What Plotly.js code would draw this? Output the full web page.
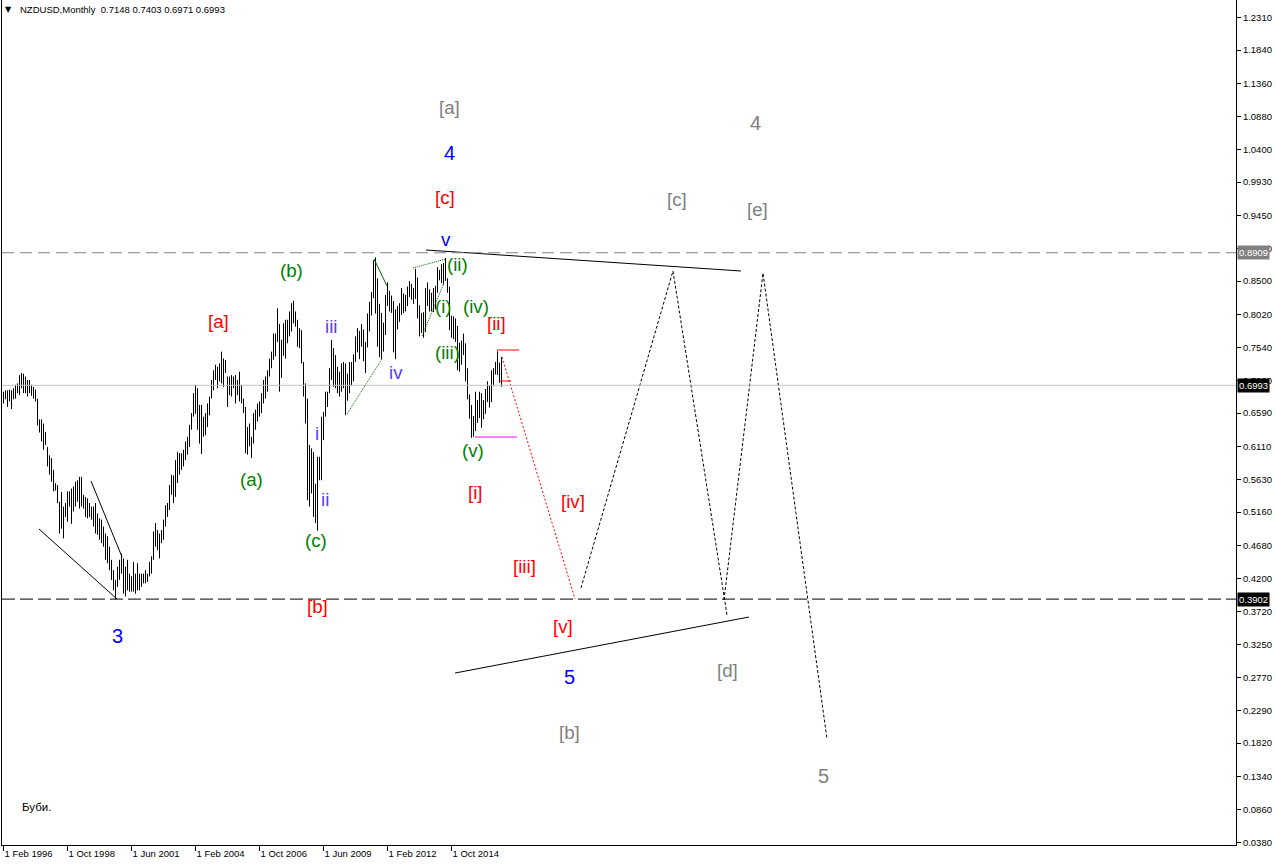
<!DOCTYPE html>
<html><head><meta charset="utf-8">
<script src="https://cdn.plot.ly/plotly-3.0.1.min.js"></script>
<style>html,body{margin:0;padding:0;background:#fff;}#chart{width:1276px;height:866px;}</style>
</head><body><div id="chart"></div>
<script>
// ---------------- data ----------------
const headerText = 'NZDUSD,Monthly\u00a0\u00a00.7148 0.7403 0.6971 0.6993';
const firstYear = 1996, firstMonth = 2;   // first bar = Feb 1996 (month index 0)

// monthly highs, Feb 1996 .. Nov 2016
const barHigh = [
 .6900,.6920,.6920,.6930,.6920,.6950,.7000,.7020,.7140,.7170,.7160,            // 1996
 .7120,.7070,.7070,.7000,.6970,.6930,.6800,.6500,.6500,.6440,.6320,.6100,      // 1997
 .5980,.5940,.5770,.5580,.5550,.5310,.5450,.5240,.5290,.5460,.5460,.5500,      // 1998
 .5530,.5600,.5620,.5670,.5670,.5410,.5380,.5360,.5290,.5240,.5240,.5290,      // 1999
 .5140,.5070,.5050,.4950,.4850,.4810,.4660,.4470,.4320,.4180,.4370,.4470,      // 2000
 .4560,.4490,.4370,.4470,.4270,.4230,.4440,.4270,.4420,.4270,.4270,.4270,      // 2001
 .4320,.4270,.4440,.4520,.4880,.5000,.4900,.4850,.4900,.5050,.5260,.5290,      // 2002
 .5550,.5700,.5690,.5910,.6030,.6010,.6010,.6060,.6180,.6250,.6420,.6590,      // 2003
 .6880,.7000,.6950,.6710,.6710,.6540,.6590,.6730,.6830,.7070,.7210,.7290,      // 2004
 .7260,.7310,.7480,.7380,.7360,.7120,.7120,.7140,.7120,.7140,.7070,.7190,      // 2005
 .7000,.6800,.6680,.6390,.6440,.6250,.6590,.6640,.6730,.6760,.6880,.7070,      // 2006
 .7120,.7210,.7380,.7480,.7740,.7740,.8107,.7880,.7650,.7890,.7940,.7940,      // 2007
 .8060,.8180,.8214,.8060,.7940,.7820,.7790,.7330,.7020,.6800,.6130,.6080,      // 2008
 .6030,.5570,.5960,.5960,.6540,.6610,.6900,.6900,.7240,.7650,.7530,.7430,      // 2009
 .7260,.7190,.7310,.7330,.7310,.7160,.7330,.7330,.7440,.7700,.7820,.7780,      // 2010
 .7880,.7800,.7620,.8030,.8200,.8340,.8800,.8843,.8540,.8170,.8040,.7900,      // 2011
 .8300,.8480,.8360,.8290,.8210,.8090,.8140,.8180,.8400,.8320,.8300,.8420,      // 2012
 .8500,.8460,.8400,.8676,.8550,.8150,.8040,.8050,.8400,.8480,.8380,.8330,      // 2013
 .8400,.8430,.8700,.8660,.8740,.8760,.8835,.8540,.8420,.8000,.7990,.7960,      // 2014
 .7850,.7610,.7640,.7740,.7600,.7240,.6860,.6710,.6550,.6900,.6780,.6900,      // 2015
 .6880,.6780,.6940,.7050,.6990,.7210,.7240,.7330,.7485,.7320,.7403             // 2016
];
// monthly lows, Feb 1996 .. Nov 2016
const barLow = [
 .6730,.6790,.6680,.6760,.6650,.6790,.6800,.6880,.6850,.6950,.6880,            // 1996
 .6880,.6830,.6880,.6840,.6800,.6760,.6410,.6310,.6180,.6060,.6130,.5820,      // 1997
 .5700,.5600,.5460,.5470,.5290,.4850,.4920,.4780,.5090,.5020,.5240,.4990,      // 1998
 .5170,.5240,.5310,.5210,.5240,.5210,.5090,.5070,.5090,.5050,.4950,.4850,      // 1999
 .4830,.4760,.4710,.4660,.4470,.4420,.4320,.4180,.4030,.3900,.4080,.4180,      // 2000
 .4270,.3980,.3940,.4030,.4010,.4010,.4010,.3980,.4030,.4030,.4080,.4130,      // 2001
 .4130,.4150,.4230,.4270,.4470,.4660,.4610,.4490,.4710,.4760,.4950,.5090,      // 2002
 .5190,.5410,.5290,.5380,.5580,.5700,.5770,.5820,.5910,.5990,.6100,.6350,      // 2003
 .6540,.6580,.6350,.6150,.6000,.6250,.6270,.6390,.6560,.6800,.6920,.7070,      // 2004
 .6950,.7050,.7020,.6970,.7170,.6680,.6850,.6830,.6950,.6730,.6850,.6760,      // 2005
 .6730,.6590,.6010,.5990,.6110,.5940,.6150,.6350,.6470,.6540,.6590,.6730,      // 2006
 .6800,.6900,.7120,.7240,.7360,.7410,.7620,.6900,.7100,.7420,.7380,.7600,      // 2007
 .7700,.7770,.7890,.7840,.7550,.7530,.7310,.6830,.6440,.5330,.5240,.5430,      // 2008
 .5090,.5000,.4891,.5620,.5620,.6200,.6540,.6680,.6880,.7070,.6970,.6950,      // 2009
 .6880,.6830,.6900,.6950,.6560,.6770,.6880,.6990,.7050,.7330,.7470,.7370,      // 2010
 .7550,.7340,.7170,.7540,.7770,.8000,.8250,.8030,.7550,.7400,.7370,.7480,      // 2011
 .7720,.8140,.8060,.8040,.7470,.7370,.7800,.7910,.8010,.8040,.8060,.8140,      // 2012
 .8270,.8230,.8170,.8240,.7960,.7700,.7750,.7680,.7760,.8140,.8060,.8060,      // 2013
 .8050,.8090,.8330,.8510,.8470,.8450,.8500,.8330,.7790,.7680,.7660,.7620,      // 2014
 .7210,.7190,.7290,.7430,.7050,.6790,.6510,.6235,.6250,.6330,.6450,.6520,      // 2015
 .6380,.6500,.6580,.6750,.6670,.6750,.6980,.7150,.7140,.7030,.6971             // 2016
];

const xTickMonths = ['1996-02','1998-10','2001-06','2004-02','2006-10','2009-06','2012-02','2014-10'];
const xTickText = ['1 Feb 1996','1 Oct 1998','1 Jun 2001','1 Feb 2004','1 Oct 2006','1 Jun 2009','1 Feb 2012','1 Oct 2014'];
const yTickVals = [1.2310,1.1840,1.1360,1.0880,1.0400,0.9930,0.9450,0.8970,0.8500,0.8020,0.7540,0.7060,0.6590,
                   0.6110,0.5630,0.5160,0.4680,0.4200,0.3720,0.3250,0.2770,0.2290,0.1820,0.1340,0.0860,0.0380];

const levelHigh = 0.8909;   // grey dashed level
const levelLow = 0.3902;    // black dashed level
const lastPrice = 0.6993;   // current price line

// drawn trend lines (month index, price)
const wedgeAX = [17.75, 56.75],  wedgeAY = [0.4915, 0.3903];
const wedgeBX = [43.75, 59.25],  wedgeBY = [0.5609, 0.4511];
const topLineX = [211.25, 368.75], topLineY = [0.8949, 0.8645];
const botLineX = [225.75, 372.75], botLineY = [0.2833, 0.3643];
const greenAX = [171.75, 189.25], greenAY = [0.6578, 0.7373];
const greenBX = [185.25, 191.75], greenBY = [0.8819, 0.8428];
const greenCX = [204.75, 221.25], greenCY = [0.8689, 0.8819];
const greenDX = [209.25, 220.25], greenDY = [0.7706, 0.8472];
const redPathX = [249.25, 285.75], redPathY = [0.7402, 0.3903];
const pathAX = [288.75, 334.75, 361.75], pathAY = [0.4063, 0.8645, 0.3672];
const pathBX = [360.25, 379.75, 411.75], pathBY = [0.3889, 0.8616, 0.1879];
const redHighX = [246.75, 257.75], redHighY = [0.7503, 0.7503];
const redMidX = [247.75, 253.75],  redMidY = [0.7055, 0.7055];
const pinkLowX = [235.75, 256.75], pinkLowY = [0.6245, 0.6245];

// wave labels
const labelText = ['[a]','4','[c]','v','[c]','4','[e]','(b)','[a]','iii','iv','(ii)','(i)','(iv)','[ii]','(iii)',
                   '(v)','(a)','i','ii','(c)','[i]','[iv]','[iii]','[b]','[v]','3','5','[d]','[b]','5'];
const labelX = [222.75,222.75,220.6,221.25,336.75,375.75,376.75,143.75,107.5,163.5,196.25,226.75,219.75,236.25,246.25,221.75,
                234.9,123.75,156.6,160.75,156.25,235.75,284.9,260.25,156.75,279.9,56.75,282.75,361.9,282.9,409.75];
const labelY = [1.1016,1.0351,0.9701,0.9101,0.9686,1.0785,0.9541,0.8652,0.7908,0.7850,0.7171,0.8746,0.8139,0.8139,0.7893,0.7467,
                0.6050,0.5624,0.6289,0.5345,0.4742,0.5436,0.5306,0.4380,0.3802,0.3513,0.3368,0.2776,0.2877,0.1970,0.1344];
const labelGroup = ['g','b','r','b','g','g','g','n','r','p','p','n','n','n','r','n',
                    'n','n','p','p','n','r','r','r','r','r','b','b','g','g','g'];
const noteText = 'Буби.';

// ---------------- styles ----------------
const groupColor = {g:'#808080', b:'#0000ff', r:'#ff0000', n:'#008000', p:'#5b3cf5'};
const FONT = 'Liberation Sans, Arial, sans-serif';

function monthIndex(s){ const [y,m] = s.split('-').map(Number); return (y-firstYear)*12 + (m-firstMonth); }

// bars as vertical high-low segments
const bx = [], by = [];
for (let i = 0; i < barHigh.length; i++){ bx.push(i, i, null); by.push(barLow[i], barHigh[i], null); }

const traces = [];
function seg(x, y, color, dash, width){
  traces.push({type:'scatter', mode:'lines', x:x, y:y, hoverinfo:'skip',
    line:{color:color, width:width||1, dash:dash||'solid'}});
}
seg(bx, by, '#000000');
seg(wedgeAX, wedgeAY, '#000000');
seg(wedgeBX, wedgeBY, '#000000');
seg(topLineX, topLineY, '#000000');
seg(botLineX, botLineY, '#000000');
seg(greenAX, greenAY, '#006400', '1px,1px');
seg(greenBX, greenBY, '#006400');
seg(greenCX, greenCY, '#006400', '1px,1px');
seg(greenDX, greenDY, '#006400', '1px,1px');
seg(redPathX, redPathY, '#ff0000', '2px,2px');
seg(pathAX, pathAY, '#000000', '3px,2px');
seg(pathBX, pathBY, '#000000', '3px,2px');
seg(redHighX, redHighY, '#ff0000');
seg(redMidX, redMidY, '#ff0000');
seg(pinkLowX, pinkLowY, '#ff00ff');

const annotations = [];
for (let i = 0; i < labelText.length; i++){
  const isDigit = /^[0-9]$/.test(labelText[i]);
  annotations.push({x:labelX[i], y:labelY[i], xref:'x', yref:'y', text:labelText[i], showarrow:false,
    xanchor:'center', yanchor:'middle',
    font:{family:FONT, size:isDigit?20:18.7, color:groupColor[labelGroup[i]]}});
}
const W = 1234, H = 845;
annotations.push({xref:'paper', yref:'paper', x:(8-2)/W, y:1-10/H, text:'▼', showarrow:false,
  xanchor:'center', yanchor:'middle', font:{family:'DejaVu Sans', size:8, color:'#000'}});
annotations.push({xref:'paper', yref:'paper', x:(18-2)/W, y:1-10/H, text:headerText, showarrow:false,
  xanchor:'left', yanchor:'middle', font:{family:FONT, size:9.5, color:'#000'}});
annotations.push({xref:'paper', yref:'paper', x:(20-2)/W, y:1-807/H, text:noteText, showarrow:false,
  xanchor:'left', yanchor:'middle', font:{family:FONT, size:11.5, color:'#000'}});
function priceBox(v, bg){
  annotations.push({xref:'paper', yref:'y', x:1, xshift:1, y:v, text:v.toFixed(4), showarrow:false,
    xanchor:'left', yanchor:'middle', bgcolor:bg, borderpad:1,
    font:{family:FONT, size:9.5, color:'#ffffff'}});
}
priceBox(levelHigh, '#808080');
priceBox(lastPrice, '#000000');
priceBox(levelLow, '#000000');

const shapes = [
  {type:'line', xref:'paper', yref:'y', x0:0, x1:1, y0:lastPrice, y1:lastPrice, line:{color:'#c0c0c0', width:1}},
  {type:'line', xref:'paper', yref:'y', x0:0, x1:1, y0:levelHigh, y1:levelHigh, line:{color:'#808080', width:1, dash:'12px,6px'}},
  {type:'line', xref:'paper', yref:'y', x0:0, x1:1, y0:levelLow, y1:levelLow, line:{color:'#000000', width:1, dash:'13px,5px'}}
];

const layout = {
  width:1276, height:866,
  margin:{l:2, r:40, t:0, b:21, pad:0},
  paper_bgcolor:'#ffffff', plot_bgcolor:'#ffffff',
  showlegend:false, hovermode:false,
  xaxis:{range:[-0.75, 616.25], showgrid:false, zeroline:false, showline:true, linecolor:'#000', linewidth:1,
    ticks:'outside', ticklen:5, tickcolor:'#000', tickvals:xTickMonths.map(monthIndex), ticktext:xTickText,
    ticklabelposition:'outside right', tickfont:{family:FONT, size:9.5, color:'#000'}, fixedrange:true},
  yaxis:{range:[0.0347, 1.2563], side:'right', showgrid:false, zeroline:false, showline:true, mirror:true,
    linecolor:'#000', linewidth:1, ticks:'outside', ticklen:4, tickcolor:'#000',
    tickvals:yTickVals, ticktext:yTickVals.map(v=>v.toFixed(4)),
    tickfont:{family:FONT, size:9.5, color:'#000'}, fixedrange:true},
  annotations:annotations, shapes:shapes
};
Plotly.newPlot('chart', traces, layout, {displayModeBar:false, staticPlot:true});
</script></body></html>
